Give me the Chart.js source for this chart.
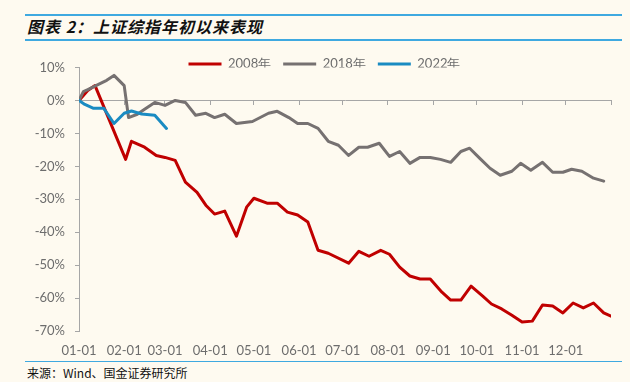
<!DOCTYPE html>
<html>
<head>
<meta charset="utf-8">
<script src="https://cdn.jsdelivr.net/npm/chart.js@4.4.1/dist/chart.umd.min.js"></script>
<style>
  html, body { margin: 0; padding: 0; background: #fefaf0; width: 630px; height: 382px; overflow: hidden; }
  body { position: relative; font-family: "Noto Sans CJK SC", sans-serif; }
  .rule { position: absolute; left: 25px; width: 597px; background: #3fa9e0; }
  #title { position: absolute; left: 27px; top: 14px; height: 25px; line-height: 25px; font-size: 16px; font-weight: bold; font-style: italic; letter-spacing: 1px; color: #111; white-space: nowrap; }
  #src { position: absolute; left: 27px; top: 364px; font-size: 12px; line-height: 18px; color: #111; white-space: nowrap; }
  #wrap { position: absolute; left: 0; top: 45px; width: 630px; height: 313px; }
</style>
</head>
<body>
<div class="rule" style="top:14px;height:2px"></div>
<div id="title">图表 2：上证综指年初以来表现</div>
<div class="rule" style="top:39px;height:2px"></div>
<div id="wrap"><canvas id="c"></canvas></div>
<div class="rule" style="top:361px;height:1px"></div>
<div id="src">来源：Wind、国金证券研究所</div>
<script>
// ---- data (x = day of year, y = % change since start of year) ----
const monthStarts = [0, 31, 59, 90, 120, 151, 181, 212, 243, 273, 304, 334, 365];
const monthLabels = ['01-01', '02-01', '03-01', '04-01', '05-01', '06-01', '07-01', '08-01', '09-01', '10-01', '11-01', '12-01'];
const seriesNames = ['2008年', '2018年', '2022年'];

const days2008 = [0, 6, 11, 32, 36, 45, 53, 59, 66, 73, 81, 87, 93, 100, 108, 115, 120, 129, 136, 143, 150, 157, 164, 171, 185, 192, 199, 207, 213, 220, 227, 234, 241, 249, 255, 262, 269, 277, 283, 290, 297, 304, 311, 318, 325, 332, 339, 346, 353, 360, 365];
const values2008 = [0, 3.0, 4.5, -17.9, -12.4, -14.2, -16.7, -17.3, -18.2, -24.8, -27.9, -31.8, -34.5, -33.6, -41.2, -32.4, -29.7, -31.2, -31.2, -33.9, -34.8, -36.9, -45.5, -46.4, -49.4, -45.8, -47.3, -45.5, -46.7, -50.6, -53.3, -54.2, -54.2, -58.2, -60.6, -60.6, -56.4, -59.4, -61.8, -63.3, -65.2, -67.3, -67.0, -62.1, -62.4, -64.5, -61.5, -63.0, -61.5, -64.5, -65.5];

const days2018 = [0, 3, 6, 13, 19, 24, 31, 34, 40, 45, 52, 59, 66, 73, 80, 87, 93, 100, 108, 119, 130, 136, 144, 150, 157, 164, 171, 178, 185, 192, 198, 206, 213, 220, 227, 234, 241, 248, 255, 262, 268, 275, 282, 289, 297, 303, 310, 318, 325, 332, 338, 345, 353, 360];
const values2018 = [0, 2.7, 3.3, 4.8, 6.1, 7.6, 4.5, -5.2, -4.2, -2.7, -0.6, -1.5, 0, -0.6, -4.5, -3.9, -5.2, -4.2, -7.0, -6.4, -3.9, -3.3, -5.2, -7.0, -7.0, -8.5, -12.4, -13.6, -16.7, -14.2, -14.2, -13.0, -17.0, -15.5, -19.1, -17.3, -17.3, -17.9, -18.8, -15.5, -14.5, -17.6, -20.6, -22.7, -21.5, -19.1, -21.2, -18.8, -21.8, -21.8, -20.9, -21.5, -23.6, -24.5];

const days2022 = [0, 4, 10, 17, 24, 31, 36, 43, 52, 60];
const values2022 = [0, -1.2, -2.4, -2.4, -7.0, -3.9, -3.2, -4.1, -4.5, -8.5];

// ---- styling ----
const C_RED = '#c00000', C_GRAY = '#767171', C_BLUE = '#1a8bc2';
const AXIS = '#a6a6a6', TXT = '#6d6d6d';
const FONT = { family: 'Lato, "Liberation Sans", sans-serif', size: 13 };

const pts = (d, v) => d.map((x, i) => ({ x: x, y: v[i] }));
const line = (label, d, v, color, order) => ({
  label, data: pts(d, v), borderColor: color, backgroundColor: color,
  borderWidth: 3, pointRadius: 0, pointHoverRadius: 0, tension: 0,
  borderJoinStyle: 'round', borderCapStyle: 'round', order, xAxisID: 'x', yAxisID: 'y'
});

// let the y tick labels extend left of the (narrow) scale box without clipping
const unclipY = { id: 'unclipY', afterLayout(chart) { chart.scales.y.left = 0; } };

new Chart(document.getElementById('c'), {
  type: 'line',
  data: {
    datasets: [
      line(seriesNames[0], days2008, values2008, C_RED, 3),
      line(seriesNames[1], days2018, values2018, C_GRAY, 2),
      line(seriesNames[2], days2022, values2022, C_BLUE, 1)
    ]
  },
  plugins: [unclipY],
  options: {
    responsive: true,
    maintainAspectRatio: false,
    animation: false,
    devicePixelRatio: 1,
    layout: { padding: { top: 0.5, right: 19, bottom: 0, left: 38 } },
    plugins: {
      tooltip: { enabled: false },
      legend: {
        position: 'top',
        maxHeight: 22,
        labels: {
          usePointStyle: true, pointStyle: 'line', pointStyleWidth: 33,
          padding: 12, color: TXT, font: FONT,
          sort: (a, b) => a.datasetIndex - b.datasetIndex
        }
      }
    },
    scales: {
      x: {
        type: 'linear', position: { y: 0 }, min: 0, max: 365,
        afterBuildTicks: s => { s.ticks = monthStarts.map(v => ({ value: v })); },
        ticks: { display: false, autoSkip: false },
        grid: { drawOnChartArea: false, drawTicks: true, tickLength: 4, color: AXIS, tickColor: AXIS },
        border: { display: true, color: AXIS, width: 1 }
      },
      xl: {
        type: 'linear', position: 'bottom', min: 0, max: 365,
        afterBuildTicks: s => { s.ticks = monthStarts.slice(0, 12).map(v => ({ value: v })); },
        afterFit: s => { s.height = 27; },
        ticks: { autoSkip: false, maxRotation: 0, padding: 4, color: TXT, font: FONT,
                 callback: (v, i) => monthLabels[i] },
        grid: { display: false },
        border: { display: false }
      },
      y: {
        type: 'linear', position: 'left', min: -70, max: 10,
        afterFit: s => { s.width = 41; },
        ticks: { stepSize: 10, padding: 10, color: TXT, font: FONT, callback: v => v + '%' },
        grid: { drawOnChartArea: false, drawTicks: true, tickLength: 4, color: AXIS, tickColor: AXIS },
        border: { display: true, color: AXIS, width: 1 }
      }
    }
  }
});
</script>
</body>
</html>
